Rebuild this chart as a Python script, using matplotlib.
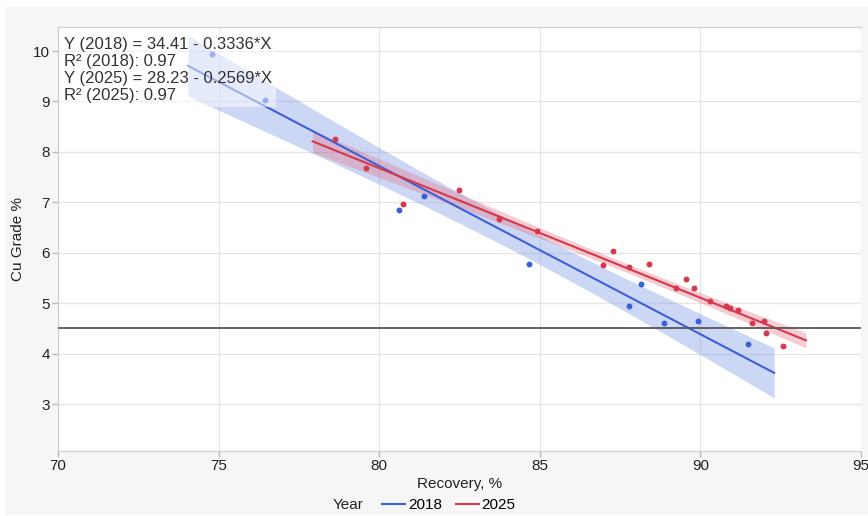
import numpy as np
import matplotlib.pyplot as plt
from matplotlib.lines import Line2D
from matplotlib.patches import Rectangle

plt.rcParams["font.family"] = ["Liberation Sans", "DejaVu Sans"]

# Sample data: Cu grade vs recovery for two survey years
rec_2018 = [74.8, 76.45, 80.61, 81.40, 84.66, 87.79, 88.14, 88.86, 89.92, 91.50]
cu_2018 = [9.94, 9.03, 6.84, 7.13, 5.78, 4.94, 5.38, 4.61, 4.65, 4.19]

rec_2025 = [78.63, 79.59, 80.74, 82.48, 83.74, 84.90, 86.96, 87.27, 87.77, 88.39,
            89.23, 89.56, 89.79, 90.31, 90.80, 90.93, 91.16, 91.60, 91.98, 92.06, 92.59]
cu_2025 = [8.25, 7.69, 6.96, 7.24, 6.66, 6.43, 5.76, 6.04, 5.72, 5.77,
           5.30, 5.48, 5.30, 5.05, 4.94, 4.90, 4.87, 4.61, 4.65, 4.40, 4.16]

# Fitted models (intercept, slope) and R²
fit_2018 = (34.41, -0.3336)
fit_2025 = (28.23, -0.2569)
r2_2018 = 0.97
r2_2025 = 0.97
fit_range_2018 = [74.05, 92.3]
fit_range_2025 = [77.93, 93.29]
t_crit = {"2018": 2.306, "2025": 2.093}

threshold = 4.5

blue = "#3c60d8"
red = "#d8384c"

fig = plt.figure(figsize=(8.68, 5.16), dpi=100, facecolor="white")
# light grey panel behind the chart
fig.patches.append(Rectangle((5 / 868, 1 / 516), 1, 508 / 516, transform=fig.transFigure,
                             facecolor="#f6f6f6", edgecolor="none", zorder=-10))
ax = fig.add_axes([0.0668, 0.126, 0.925, 0.822])
ax.set_facecolor("white")


def band(x, y, fit, xr, t):
    x = np.asarray(x)
    y = np.asarray(y)
    b0, b1 = fit
    n = len(x)
    resid = y - (b0 + b1 * x)
    s = np.sqrt(np.sum(resid ** 2) / (n - 2))
    xbar = x.mean()
    sxx = np.sum((x - xbar) ** 2)
    xs = np.linspace(xr[0], xr[1], 200)
    ys = b0 + b1 * xs
    half = t * s * np.sqrt(1.0 / n + (xs - xbar) ** 2 / sxx)
    return xs, ys, half


for xd, yd, fit, xr, key, col, fill in [
    (rec_2018, cu_2018, fit_2018, fit_range_2018, "2018", blue, "#6f8fe8"),
    (rec_2025, cu_2025, fit_2025, fit_range_2025, "2025", red, "#e8707f"),
]:
    xs, ys, half = band(xd, yd, fit, xr, t_crit[key])
    ax.fill_between(xs, ys - half, ys + half, color=fill, alpha=0.35, lw=0, zorder=2)
    ax.plot(xs, ys, color=col, lw=1.5, zorder=3)
    ax.scatter(xd, yd, s=18, color=col, zorder=4, lw=0)

ax.axhline(threshold, color="#555555", lw=1.3, zorder=3)

ax.set_xlim(70, 95)
ax.set_ylim(2.07, 10.48)
ax.set_xticks([70, 75, 80, 85, 90, 95])
ax.set_yticks([3, 4, 5, 6, 7, 8, 9, 10])
ax.grid(True, color="#e6e6e6", lw=1, zorder=0)
ax.set_axisbelow(True)
for side in ["left", "bottom", "top", "right"]:
    ax.spines[side].set_color("#cfcfcf")
ax.spines["right"].set_visible(False)
ax.tick_params(axis="both", colors="#bbbbbb", labelcolor="#222222",
               labelsize=11, length=4, width=1, pad=2)

ax.set_xlabel("Recovery, %", fontsize=11, color="#222222", labelpad=3)
ax.set_ylabel("Cu Grade %", fontsize=11, color="#222222")
ax.yaxis.set_label_coords(-0.041, 0.5)

eq_text = (f"Y (2018) = {fit_2018[0]:.2f} - {abs(fit_2018[1]):.4f}*X\n"
           f"R² (2018): {r2_2018:.2f}\n"
           f"Y (2025) = {fit_2025[0]:.2f} - {abs(fit_2025[1]):.4f}*X\n"
           f"R² (2025): {r2_2025:.2f}")
ax.text(0.007, 0.975, eq_text, transform=ax.transAxes, va="top", ha="left",
        fontsize=12, color="#333333", linespacing=1.15, zorder=6,
        bbox=dict(facecolor="white", alpha=0.5, edgecolor="none", pad=3))

fig.text(0.383, 0.021, "Year", fontsize=11, color="#222222", ha="left", va="center")
handles = [Line2D([], [], color=blue, lw=1.5), Line2D([], [], color=red, lw=1.5)]
fig.legend(handles, ["2018", "2025"], ncol=2, loc="center left",
           bbox_to_anchor=(0.44, 0.021), frameon=False, fontsize=11,
           handlelength=1.5, handletextpad=0.2, columnspacing=0.9,
           borderpad=0, borderaxespad=0)

fig.savefig("out.png", dpi=100, facecolor=fig.get_facecolor())
